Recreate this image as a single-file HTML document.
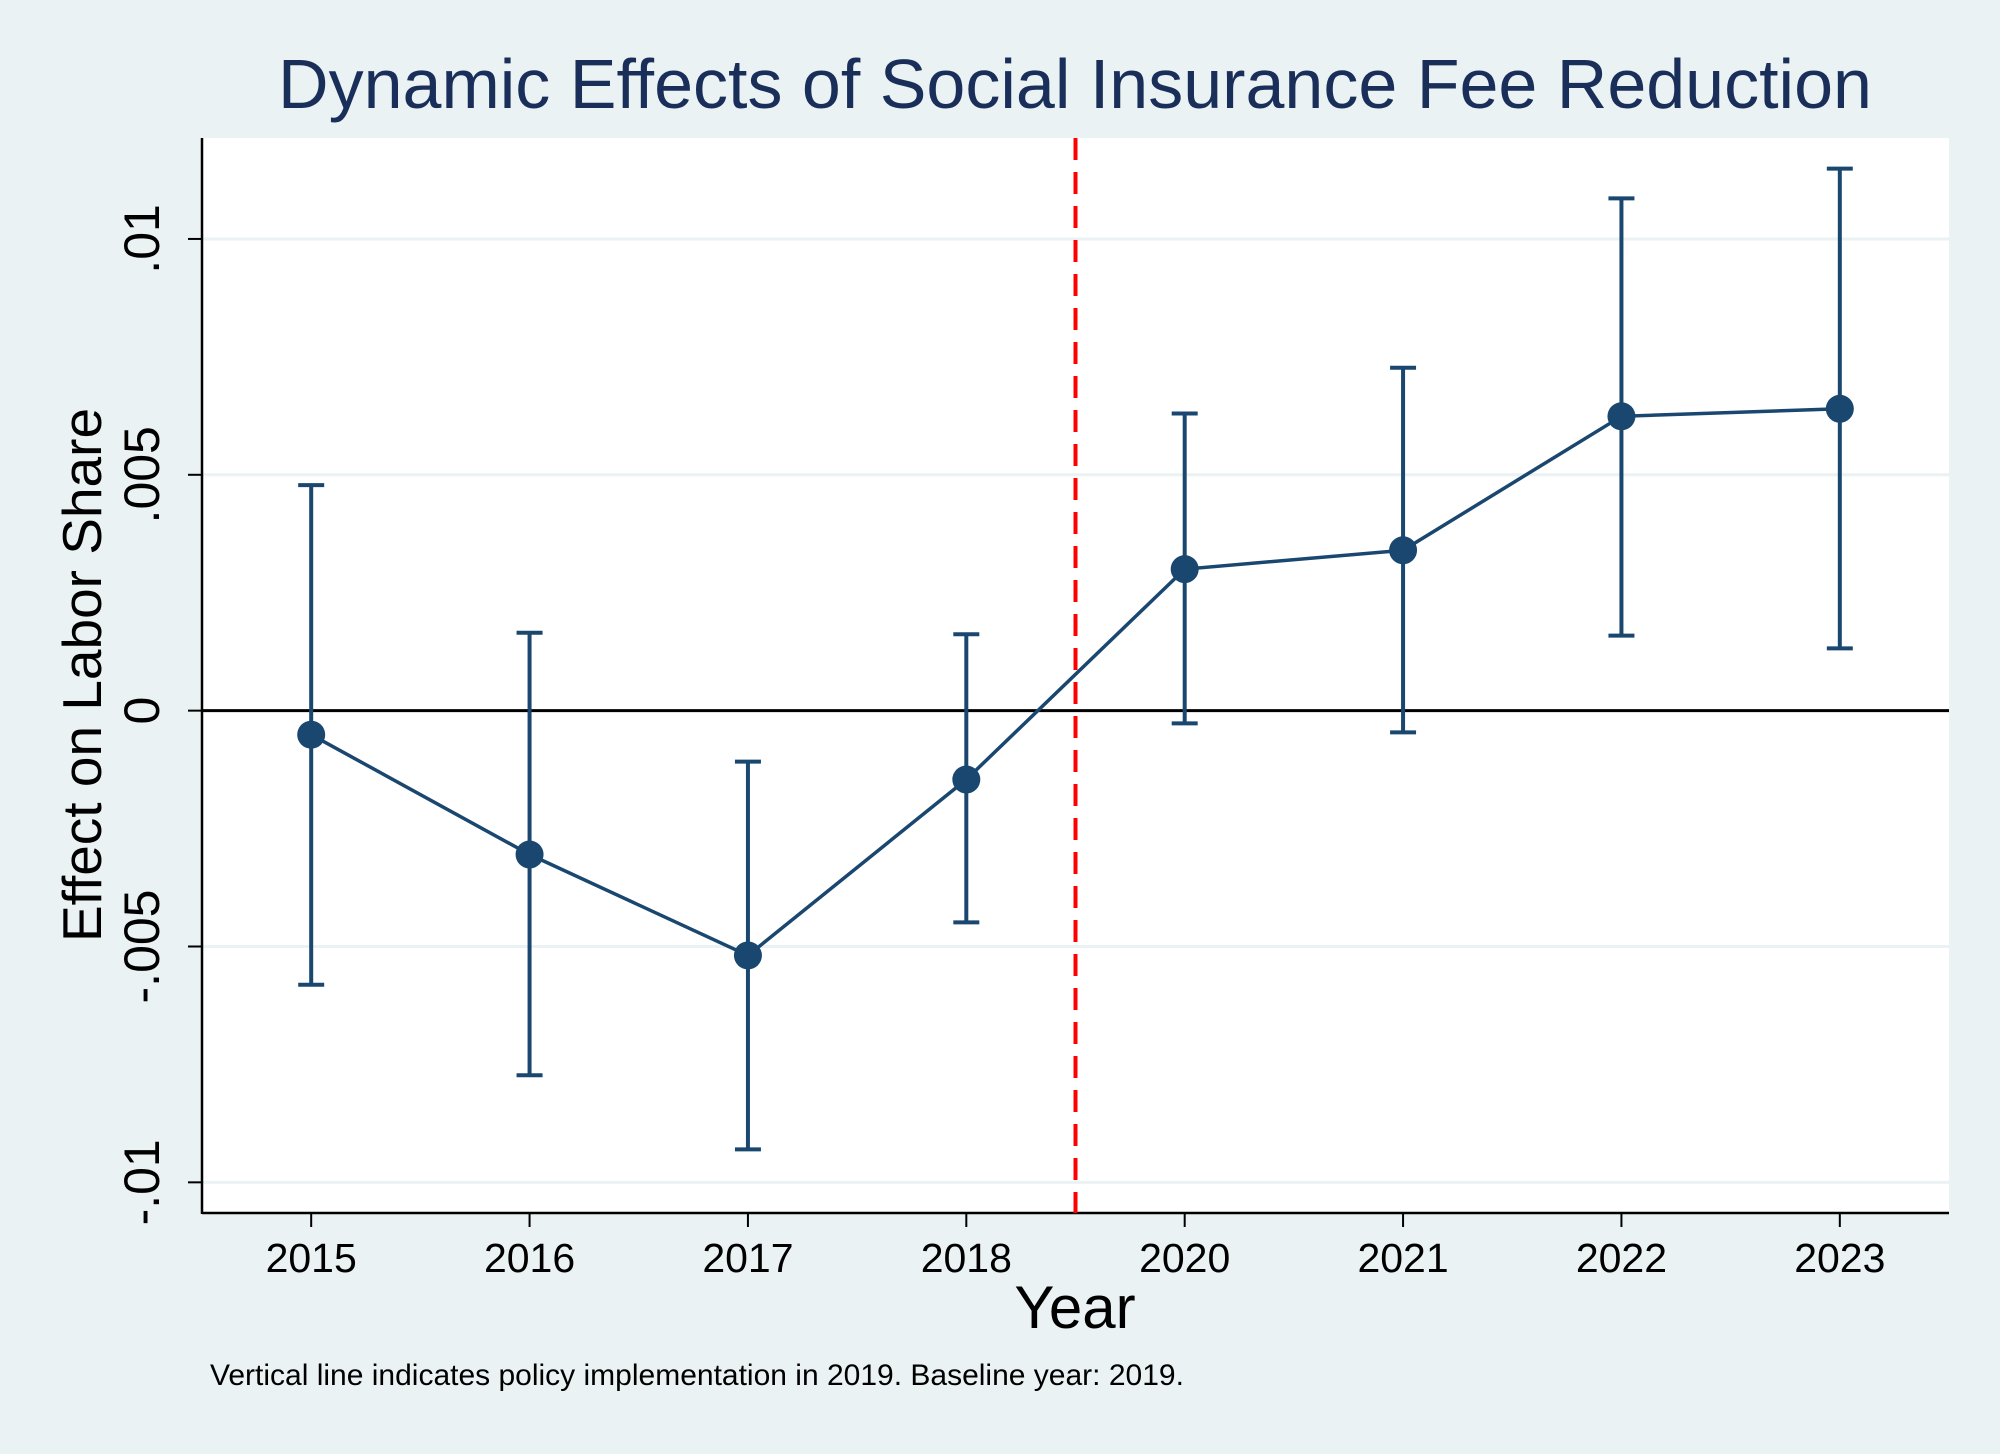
<!DOCTYPE html>
<html><head><meta charset="utf-8"><style>
html,body{margin:0;padding:0;background:#eaf2f3;}
svg{display:block;font-family:"Liberation Sans",Arial,sans-serif;}
</style></head><body>
<svg id="chart" width="2000" height="1454" viewBox="0 0 2000 1454" xmlns="http://www.w3.org/2000/svg">
<rect width="2000" height="1454" fill="#eaf2f3"/>
<text x="1075" y="108" text-anchor="middle" font-size="70" fill="#1a2e5a">Dynamic Effects of Social Insurance Fee Reduction</text>
<rect x="202" y="138" width="1747" height="1075" fill="#ffffff"/>
<g id="grid"></g>
<g id="axes"></g>
<g id="marks"></g>
<text transform="translate(101,675) rotate(-90)" text-anchor="middle" font-size="55" fill="#000">Effect on Labor Share</text>
<text x="1075" y="1328" text-anchor="middle" font-size="60" fill="#000">Year</text>
<text x="210" y="1385" font-size="30" fill="#000">Vertical line indicates policy implementation in 2019. Baseline year: 2019.</text>
</svg>
<script>
const categories = ["2015","2016","2017","2018","2020","2021","2022","2023"];
const estimates = [-0.00051,-0.00305,-0.00519,-0.00146,0.0030,0.0034,0.00624,0.0064];
const ciUpper = [0.00478,0.00165,-0.00108,0.00162,0.0063,0.00727,0.01086,0.01149];
const ciLower = [-0.00581,-0.00773,-0.0093,-0.00449,-0.00027,-0.00046,0.00159,0.00132];
const yTicks = [-0.01,-0.005,0,0.005,0.01];
const yTickLabels = ["-.01","-.005","0",".005",".01"];
const policyLinePos = 4.5;

const L=202,R=1949,T=138,B=1213;
const yMin=-0.01065,yMax=0.01214;
const xMin=0.5,xMax=8.5;
const sx=v=>L+(v-xMin)/(xMax-xMin)*(R-L);
const sy=v=>B-(v-yMin)/(yMax-yMin)*(B-T);
const NS="http://www.w3.org/2000/svg";
function mk(tag,attrs,parent){const e=document.createElementNS(NS,tag);for(const k in attrs)e.setAttribute(k,attrs[k]);parent.appendChild(e);return e;}
const grid=document.getElementById('grid'),axes=document.getElementById('axes'),marks=document.getElementById('marks');
const navy="#1a476f";

yTicks.forEach((t,i)=>{
  const y=sy(t);
  if(t!==0){const g=mk('line',{x1:L,x2:R,y1:y,y2:y,stroke:'#eaf2f3','stroke-width':3},grid);
  
  }
  const tk=mk('line',{x1:L-14,x2:L,y1:y,y2:y,stroke:'#000','stroke-width':2},axes);
  
  
  const lb=mk('text',{transform:`translate(159,${y}) rotate(-90)`,'text-anchor':'middle','font-size':50,fill:'#000'},axes);
  lb.textContent=yTickLabels[i];
  
  
});
const zl=mk('line',{x1:L,x2:R,y1:sy(0),y2:sy(0),stroke:'#000','stroke-width':3},axes);


const ya=mk('line',{x1:L,x2:L,y1:T,y2:B+1,stroke:'#000','stroke-width':2.5},axes);


const xa=mk('line',{x1:L,x2:R,y1:B,y2:B,stroke:'#000','stroke-width':2.5},axes);


categories.forEach((c,i)=>{
  const x=sx(i+1);
  const tk=mk('line',{x1:x,x2:x,y1:B,y2:B+14,stroke:'#000','stroke-width':2},axes);
  
  
  const lb=mk('text',{x:x,y:1272,'text-anchor':'middle','font-size':41,fill:'#000'},axes);
  lb.textContent=c;
  
  
});
const pl=mk('line',{x1:sx(policyLinePos),x2:sx(policyLinePos),y1:T,y2:B,stroke:'#ff0000','stroke-width':4,'stroke-dasharray':'22 12'},marks);


categories.forEach((c,i)=>{
  const x=sx(i+1);
  const eb=mk('line',{x1:x,x2:x,y1:sy(ciUpper[i]),y2:sy(ciLower[i]),stroke:navy,'stroke-width':4},marks);
  
  
  [ciUpper[i],ciLower[i]].forEach(v=>{
    const cp=mk('line',{x1:x-13,x2:x+13,y1:sy(v),y2:sy(v),stroke:navy,'stroke-width':4},marks);
    
    
  });
});
const pts=estimates.map((v,i)=>sx(i+1)+','+sy(v)).join(' ');
const ln=mk('polyline',{points:pts,fill:'none',stroke:navy,'stroke-width':3.5},marks);


estimates.forEach((v,i)=>{
  const p=mk('circle',{cx:sx(i+1),cy:sy(v),r:14,fill:navy},marks);
  
  
});
</script>
</body></html>
